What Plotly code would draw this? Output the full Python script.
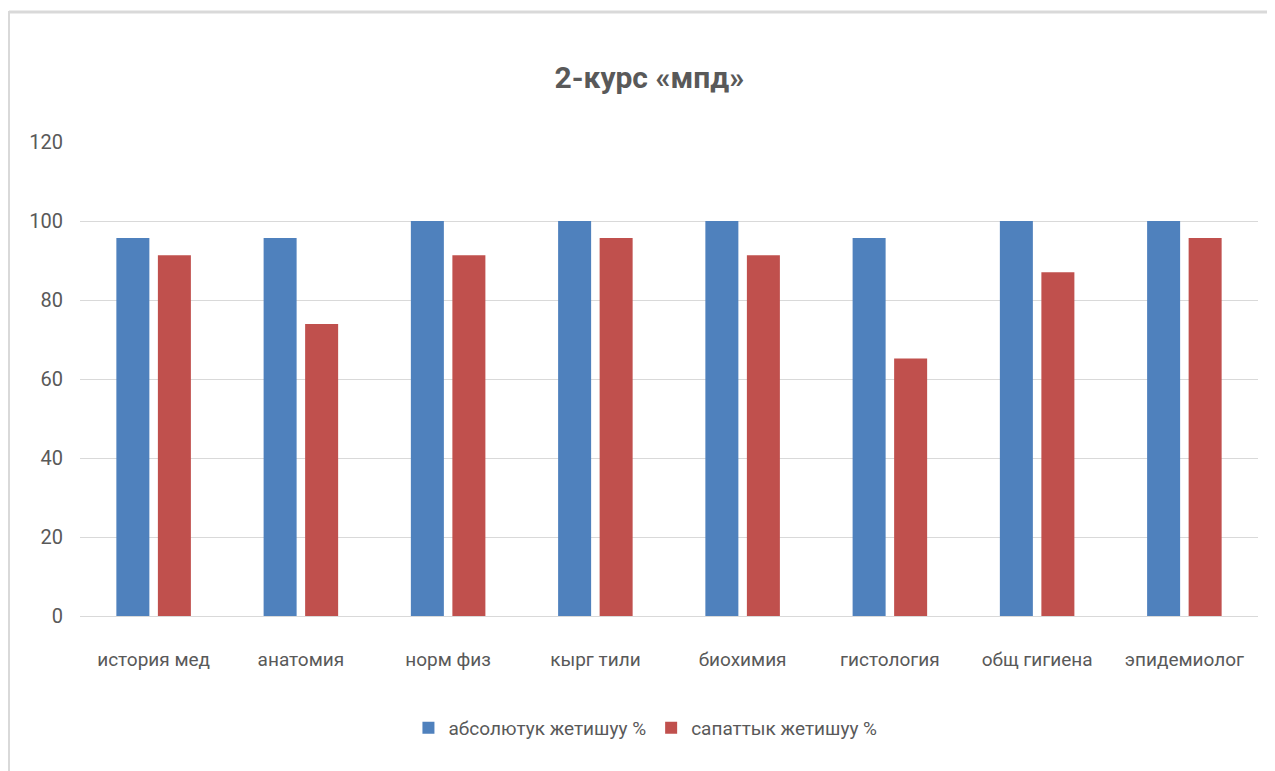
import plotly.graph_objects as go

categories = ["история мед", "анатомия", "норм физ", "кырг тили", "биохимия",
              "гистология", "общ гигиена", "эпидемиолог"]
absolute = [95.7, 95.7, 100, 100, 100, 95.7, 100, 100]
quality = [91.3, 73.9, 91.3, 95.7, 91.3, 65.2, 87.0, 95.7]
series_names = ["абсолютук жетишуу %", "сапаттык жетишуу %"]
y_ticks = [0, 20, 40, 60, 80, 100, 120]

FONT = "Liberation Sans Narrow, Arial Narrow, Roboto, sans-serif"
GRAY = "#595959"

fig = go.Figure()
fig.add_trace(go.Bar(x=categories, y=absolute, name=series_names[0],
                     marker=dict(color="#4f81bd", line=dict(width=0))))
fig.add_trace(go.Bar(x=categories, y=quality, name=series_names[1],
                     marker=dict(color="#c0504d", line=dict(width=0))))

fig.update_layout(
    width=1275, height=771,
    margin=dict(l=72, r=25, t=134, b=163),
    paper_bgcolor="white", plot_bgcolor="white",
    barmode="group", bargap=0.436, bargroupgap=0.205,
    title=dict(text="<b>2-курс «мпд»</b>", x=0.503, xanchor="center",
               y=1 - 69 / 771, yanchor="middle",
               font=dict(family=FONT, size=30, color=GRAY)),
    font=dict(family=FONT, size=19, color=GRAY),
    showlegend=True,
    legend=dict(orientation="h", x=0.48, xanchor="center", y=-0.236, yanchor="middle",
                font=dict(family=FONT, size=19, color=GRAY),
                itemwidth=30, traceorder="normal"),
    xaxis=dict(showline=True, linecolor="#d9d9d9", linewidth=1, ticks="",
               tickfont=dict(size=19, color=GRAY), showgrid=False,
               ticklabelstandoff=26),
    yaxis=dict(range=[0, 120], tickvals=y_ticks, showgrid=True, gridcolor="#d9d9d9",
               gridwidth=1, zeroline=False, ticks="", showline=False,
               tickfont=dict(size=20, color=GRAY), ticklabelstandoff=16),
    shapes=[
        dict(type="line", xref="paper", yref="paper",
             x0=(-72 + 1) / 1178, x1=(1290 - 80) / 1178,
             y0=(616 - 12) / 474, y1=(616 - 12) / 474,
             line=dict(color="#d9d9d9", width=3)),
        dict(type="line", xref="paper", yref="paper",
             x0=(-72 + 1) / 1178, x1=(-72 + 1) / 1178,
             y0=(616 - 11) / 474, y1=(616 - 790) / 474,
             line=dict(color="#d9d9d9", width=2)),
    ],
)

fig.write_html("out.html")
